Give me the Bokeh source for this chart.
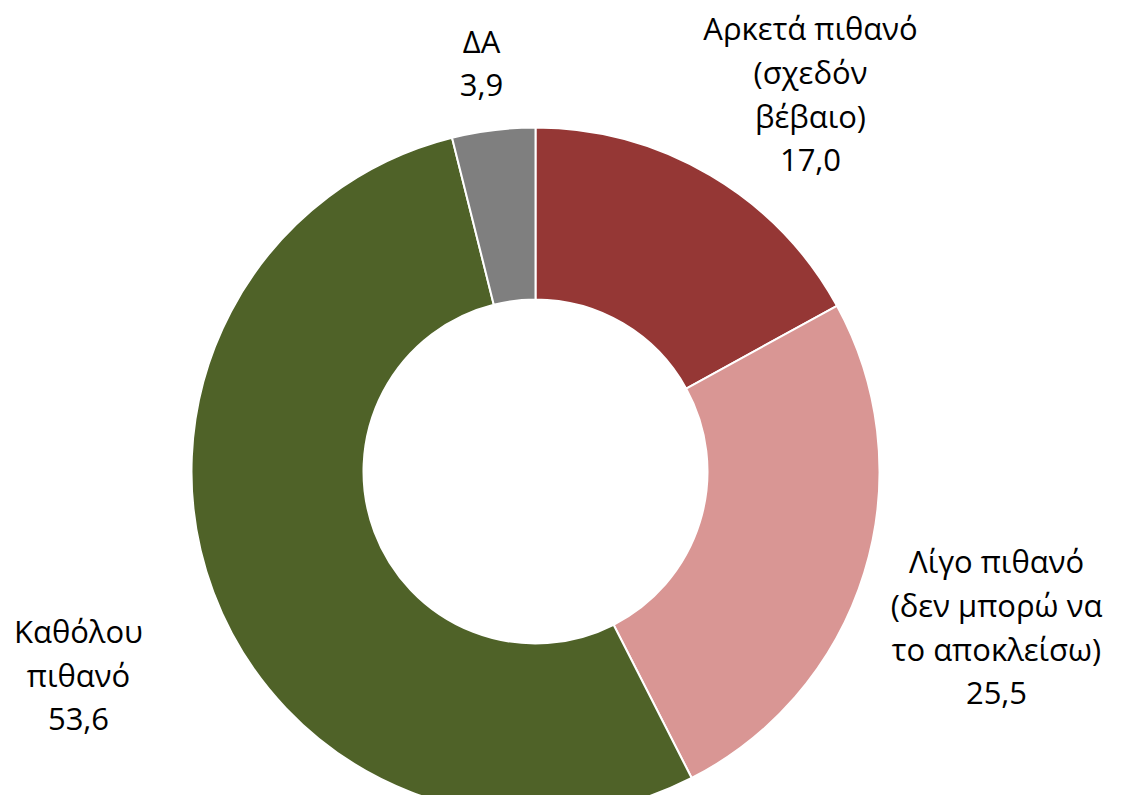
import math
from bokeh.plotting import figure
from bokeh.models import Range1d, ColumnDataSource
from bokeh.core.properties import value
from bokeh.embed import file_html
from bokeh.resources import INLINE

categories = ["Αρκετά πιθανό\n(σχεδόν\nβέβαιο)",
              "Λίγο πιθανό\n(δεν μπορώ να\nτο αποκλείσω)",
              "Καθόλου\nπιθανό",
              "ΔΑ"]
values = [17.0, 25.5, 53.6, 3.9]
colors = ["#953735", "#D99694", "#4F6228", "#7F7F7F"]

W, H = 1110, 795
PAGE_H = 811

def py(y):
    return PAGE_H - y

p = figure(width=W, height=H, output_backend="svg", toolbar_location=None,
           x_range=Range1d(0, W), y_range=Range1d(PAGE_H - H, PAGE_H),
           min_border=0)
p.axis.visible = False
p.grid.visible = False
p.outline_line_color = None
p.background_fill_color = "white"

total = sum(values)
starts, ends = [], []
cum = 0.0
for v in values:
    starts.append(math.pi / 2 - 2 * math.pi * cum / total)
    cum += v
    ends.append(math.pi / 2 - 2 * math.pi * cum / total)

cx, cy = 535, 471
src = ColumnDataSource(dict(x=[cx] * 4, y=[py(cy)] * 4, start=starts, end=ends, color=colors))
p.annular_wedge(x="x", y="y", inner_radius=172, outer_radius=344,
                start_angle="start", end_angle="end", direction="clock",
                fill_color="color", line_color="white", line_width=2, source=src)

# label block centres (page px)
lx = [810, 996, 78, 481]
ly = [93, 626, 674, 62]
LINE = 44
tx, ty, tt = [], [], []
for c, v, x0, y0 in zip(categories, values, lx, ly):
    lines = c.split("\n") + [("%.1f" % v).replace(".", ",")]
    n = len(lines)
    for i, s in enumerate(lines):
        tx.append(x0)
        ty.append(py(y0 + (i - (n - 1) / 2) * LINE))
        tt.append(s)

lsrc = ColumnDataSource(dict(x=tx, y=ty, t=tt))
p.text(x="x", y="y", text="t", source=lsrc, text_align="center", text_baseline="middle",
       text_font=value("Open Sans"), text_font_size="31px", text_color="black")

open("out.html", "w").write(file_html(p, INLINE))
